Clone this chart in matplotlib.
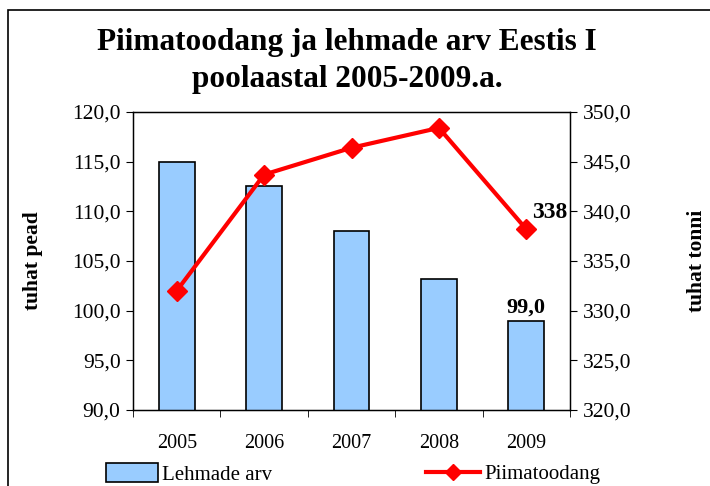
import numpy as np
import matplotlib
matplotlib.use('Agg')
import matplotlib.pyplot as plt
from matplotlib.patches import Rectangle, Patch
from matplotlib.lines import Line2D
from matplotlib.ticker import FuncFormatter, FixedLocator

plt.rcParams['font.family'] = ['Liberation Serif', 'DejaVu Serif']

years = ['2005', '2006', '2007', '2008', '2009']
lehmad = [115.0, 112.6, 108.0, 103.2, 99.0]      # tuhat pead
piim = [332.0, 343.7, 346.4, 348.4, 338.2]        # tuhat tonni

title = 'Piimatoodang ja lehmade arv Eestis I\npoolaastal 2005-2009.a.'


def commaFmt(v, pos):
    return ('%.1f' % v).replace('.', ',')


fig = plt.figure(figsize=(7.1, 4.86), dpi=100)
fig.patch.set_facecolor('white')

# outer frame (bottom and right edges fall outside the image)
fig.patches.append(Rectangle((8 / 710, -0.1), 1.2, 1.1 - 10 / 486, transform=fig.transFigure,
                             fill=False, edgecolor='black', linewidth=1.2))

left, right, top, bottom = 133 / 710, 570 / 710, 112 / 486, 410 / 486
ax = fig.add_axes([left, 1 - bottom, right - left, bottom - top])
x = np.arange(len(years))
ax.bar(x, lehmad, width=0.41, color='#99ccff', edgecolor='black', linewidth=1.2, zorder=2)
ax.set_ylim(90, 120)
ax.set_xlim(-0.5, len(years) - 0.5)
ax.yaxis.set_major_locator(FixedLocator(np.arange(90, 120.1, 5)))
ax.yaxis.set_major_formatter(FuncFormatter(commaFmt))
ax.set_xticks(x)
ax.set_xticklabels(years)
ax.xaxis.set_minor_locator(FixedLocator(np.arange(-0.5, len(years), 1.0)))
ax.tick_params(axis='x', which='major', length=0, labelsize=14.5, pad=17)
ax.tick_params(axis='x', which='minor', length=5, direction='out')
ax.tick_params(axis='y', length=5, direction='out', labelsize=15.5, pad=4)
for s in ax.spines.values():
    s.set_linewidth(1.0)
ax.set_ylabel('tuhat pead', fontsize=15.5, fontweight='bold')
ax.yaxis.set_label_coords((43 - 133) / 437, 0.5)

ax2 = ax.twinx()
ax2.plot(x, piim, color='#ff0000', linewidth=3, marker='D', markersize=10, zorder=3)
ax2.set_ylim(320, 350)
ax2.yaxis.set_major_locator(FixedLocator(np.arange(320, 350.1, 5)))
ax2.yaxis.set_major_formatter(FuncFormatter(commaFmt))
ax2.tick_params(axis='y', length=5, direction='out', labelsize=15.5, pad=4)
ax2.set_ylabel('tuhat tonni', fontsize=15.5, fontweight='bold', rotation=90)
ax2.yaxis.set_label_coords((687 - 133) / 437, 0.5)

ax.text(x[-1], lehmad[-1] + 0.3, '99,0', ha='center', va='bottom', fontsize=16, fontweight='bold')
ax2.text(x[-1] + 0.07, piim[-1] + 0.6, '%d' % round(piim[-1]), ha='left', va='bottom',
         fontsize=17, fontweight='bold')

fig.text(347 / 710, 1 - 61 / 486, title, ha='center', va='center',
         fontsize=22.5, fontweight='bold', linespacing=1.4)

h1 = Patch(facecolor='#99ccff', edgecolor='black', linewidth=1.2)
h2 = Line2D([], [], color='#ff0000', linewidth=3, marker='D', markersize=8)
fig.legend([h1], ['Lehmade arv'], loc='center left', bbox_to_anchor=(106 / 710, 1 - 474 / 486),
           frameon=False, fontsize=15, handlelength=2.5, handleheight=1.0, handletextpad=0.2,
           borderpad=0, borderaxespad=0)
fig.legend([h2], ['Piimatoodang'], loc='center left', bbox_to_anchor=(426 / 710, 1 - 474 / 486),
           frameon=False, fontsize=15, handlelength=2.6, handletextpad=0.2,
           borderpad=0, borderaxespad=0)

fig.savefig('out.png', dpi=100)
